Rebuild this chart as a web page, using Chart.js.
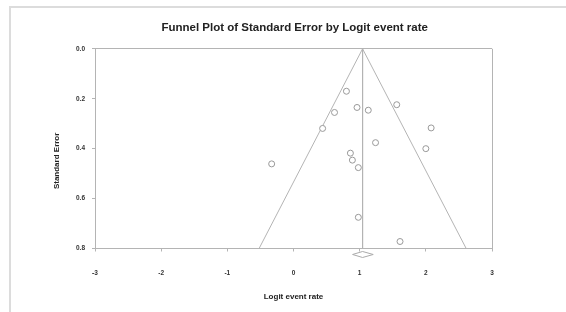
<!DOCTYPE html>
<html>
<head>
<meta charset="utf-8">
<script src="https://cdn.jsdelivr.net/npm/chart.js@4"></script>
<style>
  body { margin: 0; background: #fff; }
  #frame { position: absolute; left: 9px; top: 6px; width: 620px; height: 400px; border: 2px solid #dcdcdc; }
  #funnel { position: absolute; left: 0; top: 0; }
</style>
</head>
<body>
<div id="frame"></div>
<canvas id="funnel" width="566" height="312"></canvas>
<script>
// studies: logit event rate vs standard error
var studyLogit = [0.80, 0.62, 0.96, 1.13, 1.56, 0.44, 2.08, 1.24, 2.00, -0.33, 0.86, 0.89, 0.98, 0.98, 1.61];
var studySE    = [0.170, 0.255, 0.235, 0.246, 0.224, 0.319, 0.317, 0.376, 0.400, 0.461, 0.418, 0.446, 0.476, 0.675, 0.772];

// funnel (95% limits) and summary estimate
var funnelX = [-0.52, 1.044, 2.61];
var funnelY = [0.8, 0, 0.8];
var meanX = [1.044, 1.044];
var meanY = [0, 0.8];
var diamondX = [0.893, 1.044, 1.205, 1.044, 0.893];
var diamondY = [0.824, 0.812, 0.824, 0.836, 0.824];

var xTicks = [-3, -2, -1, 0, 1, 2, 3];
var yTicks = [0, 0.2, 0.4, 0.6, 0.8];

const pts = (xs, ys) => xs.map((x, i) => ({x: x, y: ys[i]}));

const FONT = "'Liberation Sans', Arial, sans-serif";
const GRAY = "#b4b4b4";
const NONE = "rgba(0,0,0,0)";

var ctx = document.getElementById('funnel').getContext('2d');

new Chart(ctx, {
  type: "scatter",
  data: {
    datasets: [{
      label: "Studies",
      data: pts(studyLogit, studySE),
      pointStyle: "circle",
      pointRadius: 3,
      borderColor: "#999",
      backgroundColor: "#fff",
      borderWidth: 1
    }, {
      label: "Funnel",
      data: pts(funnelX, funnelY),
      showLine: true,
      borderColor: GRAY,
      borderWidth: 1,
      pointRadius: 0
    }, {
      label: "Mean",
      data: pts(meanX, meanY),
      showLine: true,
      borderColor: GRAY,
      borderWidth: 1,
      pointRadius: 0
    }, {
      label: "Summary",
      data: pts(diamondX, diamondY),
      showLine: true,
      borderColor: "#aaa",
      borderWidth: 1,
      pointRadius: 0,
      clip: false
    }]
  },
  options: {
    responsive: false,
    animation: false,
    layout: { padding: { top: 21, right: 0, bottom: 0, left: 23.4 } },
    plugins: {
      legend: { display: false },
      tooltip: { enabled: false },
      title: {
        display: true,
        text: "Funnel Plot of Standard Error by Logit event rate",
        color: "#222",
        font: { family: FONT, size: 11.5, weight: "bold" },
        padding: { top: 0, bottom: 14 }
      }
    },
    scales: {
      x: {
        type: "linear",
        min: -3,
        max: 3,
        afterBuildTicks: s => { s.ticks = xTicks.map(v => ({value: v})); },
        afterFit: s => { s.height = 63.5; },
        border: { color: GRAY },
        grid: {
          color: c => (c.tick && c.tick.value === 3 ? GRAY : NONE),
          tickColor: GRAY,
          tickLength: 3
        },
        ticks: {
          color: "#333",
          padding: 18,
          font: { family: FONT, size: 6.5, weight: "bold" },
          callback: v => v
        },
        title: {
          display: true,
          text: "Logit event rate",
          color: "#222",
          font: { family: FONT, size: 8, weight: "bold" },
          padding: { top: 0, bottom: 10 }
        }
      },
      y: {
        type: "linear",
        reverse: true,
        min: 0,
        max: 0.8,
        afterBuildTicks: s => { s.ticks = yTicks.map(v => ({value: v})); },
        afterFit: s => { s.width = 95 - 23.4; },
        border: { color: GRAY },
        grid: {
          color: c => (c.tick && c.tick.value === 0 ? GRAY : NONE),
          tickColor: GRAY,
          tickLength: 3
        },
        ticks: {
          color: "#333",
          padding: 7,
          font: { family: FONT, size: 6.5, weight: "bold" },
          callback: v => v.toFixed(1)
        },
        title: {
          display: true,
          text: "Standard Error           ",
          color: "#222",
          font: { family: FONT, size: 8, weight: "bold" },
          padding: { top: 28.8, bottom: 0 }
        }
      },
      // empty right margin, keeps the title centred like the original
      pad: {
        type: "linear",
        position: "right",
        afterFit: s => { s.width = 74; },
        border: { display: false },
        grid: { display: false },
        ticks: { display: false }
      }
    }
  }
});
</script>
</body>
</html>
